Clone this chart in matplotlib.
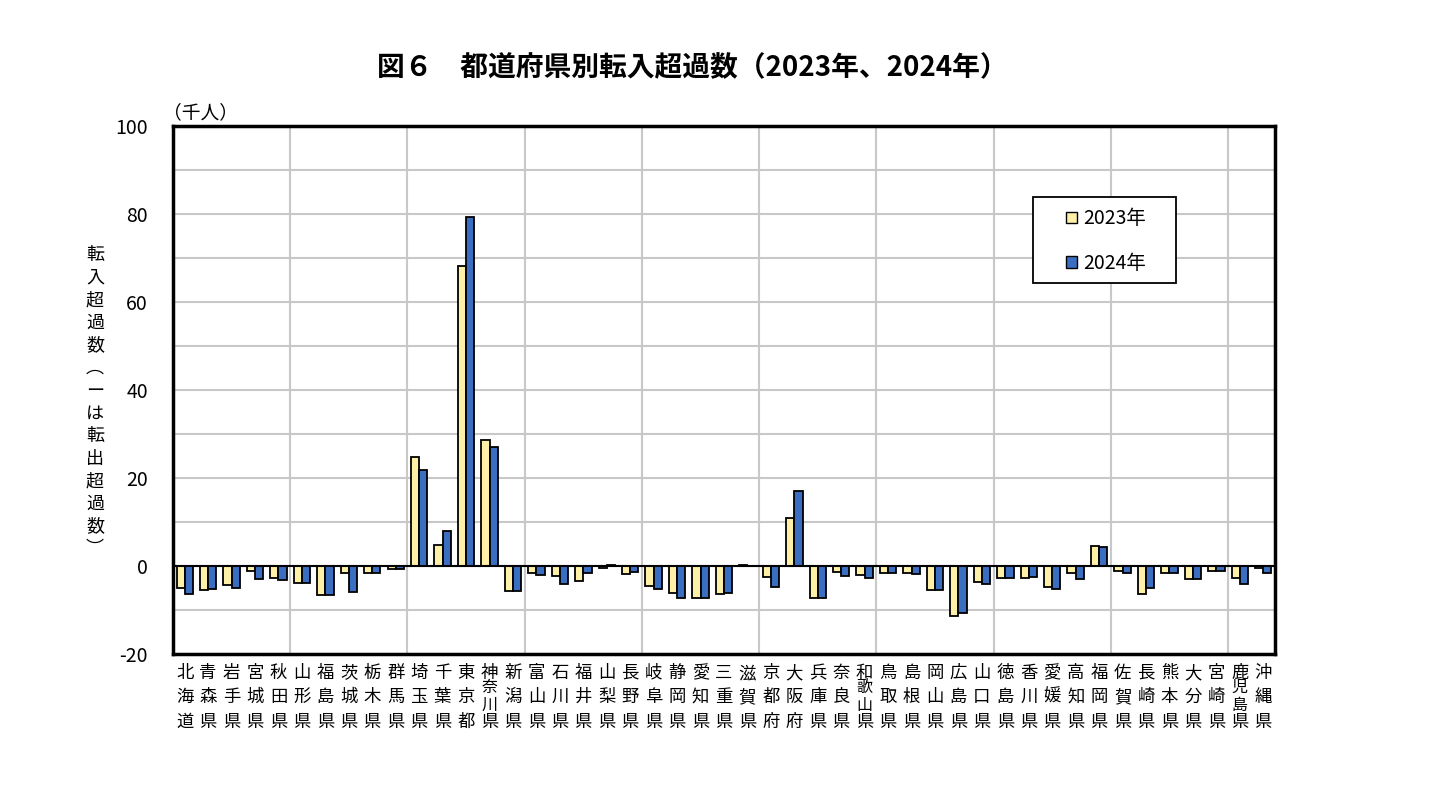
import numpy as np
import matplotlib.pyplot as plt
from matplotlib.patches import Patch, Rectangle

plt.rcParams['font.family'] = ['Noto Sans CJK JP', 'DejaVu Sans']

# 都道府県名
prefs = ['北海道', '青森県', '岩手県', '宮城県', '秋田県', '山形県', '福島県', '茨城県', '栃木県', '群馬県',
         '埼玉県', '千葉県', '東京都', '神奈川県', '新潟県', '富山県', '石川県', '福井県', '山梨県', '長野県',
         '岐阜県', '静岡県', '愛知県', '三重県', '滋賀県', '京都府', '大阪府', '兵庫県', '奈良県', '和歌山県',
         '鳥取県', '島根県', '岡山県', '広島県', '山口県', '徳島県', '香川県', '愛媛県', '高知県', '福岡県',
         '佐賀県', '長崎県', '熊本県', '大分県', '宮崎県', '鹿児島県', '沖縄県']

# 転入超過数（千人）
v2023 = [-5.0, -5.5, -4.4, -1.2, -2.7, -3.9, -6.7, -1.7, -1.5, -0.8,
         24.8, 4.85, 68.2, 28.7, -5.8, -1.7, -2.3, -3.4, -0.45, -1.8,
         -4.5, -6.1, -7.3, -6.3, 0.3, -2.6, 10.8, -7.3, -1.3, -2.0,
         -1.7, -1.7, -5.5, -11.4, -3.6, -2.65, -2.7, -4.7, -1.7, 4.5,
         -1.1, -6.4, -1.5, -3.0, -1.1, -2.7, -0.45]
v2024 = [-6.3, -5.2, -5.0, -3.0, -3.3, -3.9, -6.7, -6.0, -1.5, -0.8,
         21.9, 7.9, 79.3, 27.0, -5.8, -2.1, -4.0, -1.7, 0.3, -1.4,
         -5.2, -7.3, -7.3, -6.1, 0.1, -4.8, 17.0, -7.3, -2.2, -2.8,
         -1.7, -1.9, -5.5, -10.7, -4.2, -2.8, -2.6, -5.2, -3.0, 4.2,
         -1.7, -5.0, -1.5, -2.9, -1.1, -4.2, -1.5]

c2023 = '#FFF0A8'
c2024 = '#3A6EC0'

fig = plt.figure(figsize=(14.5, 7.98), dpi=100)
ax = fig.add_axes([0.1193, 0.1805, 0.76, 0.6616])

x = np.arange(len(prefs))
w = 0.35
ax.bar(x - w / 2, v2023, w, color=c2023, edgecolor='black', linewidth=1.3, zorder=3)
ax.bar(x + w / 2, v2024, w, color=c2024, edgecolor='black', linewidth=1.3, zorder=3)

ax.set_xlim(-0.5, len(prefs) - 0.5)
ax.set_ylim(-20, 100)
ax.set_yticks(range(-20, 101, 20))
ax.set_yticklabels(['-20', '0', '20', '40', '60', '80', '100'], fontsize=14)
ax.tick_params(axis='y', which='both', length=0, pad=18)
ax.set_xticks([])

# 目盛線
for yy in range(-10, 100, 10):
    ax.axhline(yy, color='#C8C8C8', linewidth=1.5, zorder=1)
for xx in np.arange(4.5, len(prefs) - 1, 5):
    ax.axvline(xx, color='#C8C8C8', linewidth=1.5, zorder=1)
ax.axhline(0, color='black', linewidth=1.5, zorder=4)

for s in ax.spines.values():
    s.set_linewidth(2.5)
    s.set_zorder(5)

# 都道府県名（縦書き）
tr = ax.get_xaxis_transform()
for i, name in enumerate(prefs):
    if len(name) == 3:
        ys = [-0.036, -0.0814, -0.1288]
        sizes = [12.5, 12.5, 12.5]
    else:
        ys = [-0.036, -0.064, -0.097, -0.1288]
        sizes = [12.5, 11.5, 11.5, 12.5]
    for ch, yy, fs in zip(name, ys, sizes):
        ax.text(i, yy, ch, transform=tr, ha='center', va='center', fontsize=fs)

# 縦軸ラベル
ylab = '転入超過数︵ーは転出超過数︶'
fig.text(95 / 1450, 1 - 402 / 798, '\n'.join(ylab), ha='center', va='center',
         fontsize=13, linespacing=1.33)

fig.text(200 / 1450, 1 - 113 / 798, '（千人）', ha='center', va='center', fontsize=13.5)

fig.text(692 / 1450, 1 - 68 / 798, '図６　都道府県別転入超過数（2023年、2024年）',
         ha='center', va='center', fontsize=20, fontweight='bold')

# 凡例
ax.add_patch(Rectangle((1033 / 1450, 1 - 283 / 798), 143 / 1450, 86 / 798,
                       transform=fig.transFigure, facecolor='white', edgecolor='black',
                       linewidth=1.3, zorder=6, clip_on=False))
handles = [Patch(facecolor=c2023, edgecolor='black', label='2023年'),
           Patch(facecolor=c2024, edgecolor='black', label='2024年')]
leg = fig.legend(handles=handles, loc='center', bbox_to_anchor=(1106 / 1450, 1 - 241 / 798),
                 fontsize=14, frameon=False,
                 handlelength=0.55, handleheight=0.55, handletextpad=0.3,
                 labelspacing=1.2, borderpad=0)
leg.set_zorder(7)

fig.savefig('out.png', dpi=100)
